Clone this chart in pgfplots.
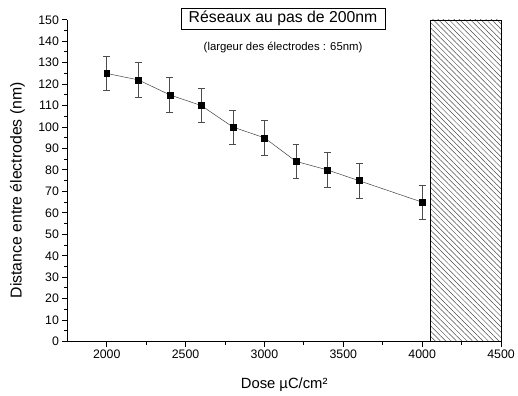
\documentclass[border=0pt]{standalone}
\usepackage{fontspec}
\setmainfont{Liberation Sans}
\usepackage{pgfplots}
\pgfplotsset{compat=1.18}
\usetikzlibrary{patterns.meta}
\begin{document}
\begin{tikzpicture}
\begin{axis}[
  anchor=south west, at={(0,0)},
  scale only axis, width=438bp, height=325bp,
  xmin=1750, xmax=4500, ymin=0, ymax=150,
  axis x line*=bottom, axis y line*=left,
  axis line style={line width=1.2pt},
  tick align=outside,
  major tick length=5bp, minor tick length=3bp,
  tick style={line width=1pt, black},
  xtick={2000,2500,3000,3500,4000,4500},
  ytick distance=10,
  minor x tick num=1, minor y tick num=1,
  /pgf/number format/assume math mode=true,
  /pgf/number format/1000 sep={},
  ticklabel style={font=\fontsize{12.5}{14}\selectfont},
  xlabel={Dose µC/cm²},
  ylabel={Distance entre électrodes (nm)},
  xlabel style={font=\fontsize{15}{17}\selectfont, at={(axis description cs:0.5,0)}, anchor=center, yshift=-44bp},
  ylabel style={font=\fontsize{16}{18}\selectfont, at={(axis description cs:0,0.47)}, anchor=center, yshift=50.5bp},
  clip=false,
]
\addplot[draw=black, line width=0.6pt, pattern={Lines[angle=-45,distance=3.8bp,line width=0.5pt]}, pattern color=black!70]
  coordinates {(4050,0) (4050,150) (4500,150) (4500,0)} -- cycle;
\addplot[color=black!75, line width=0.5pt, mark=square*, mark size=3bp,
  mark options={black, solid},
  error bars/.cd, y dir=both, y fixed=8,
  error bar style={black!70, line width=0.7pt},
  error mark options={rotate=90, mark size=3.5bp, black!70, line width=0.7pt}]
  coordinates {
  (2000,125) (2200,122) (2400,115) (2600,110) (2800,100)
  (3000,95) (3200,84) (3400,80) (3600,75) (4000,65)
  };
\node[draw=black, line width=0.6pt, inner xsep=8bp, inner ysep=3.5bp,
  font=\fontsize{16}{18}\selectfont] at (axis cs:3118,150.5) {Réseaux au pas de 200nm};
\node[font=\fontsize{11.5}{13}\selectfont] at (axis cs:3118,137.3) {(largeur des électrodes : 65nm)};
\end{axis}
\path[use as bounding box] (-68bp,-54bp) rectangle (450bp,345bp);
\end{tikzpicture}
\end{document}
